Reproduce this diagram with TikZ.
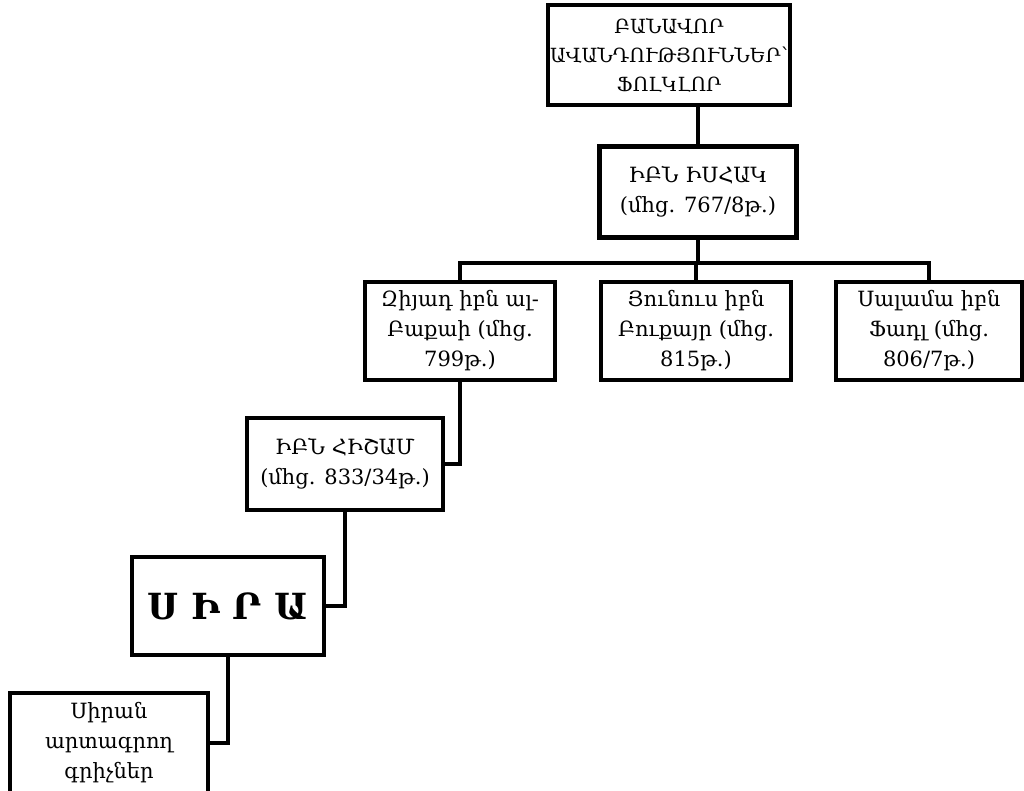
\documentclass[tikz,border=0pt]{standalone}
\usepackage{fontspec}
\setmainfont{DejaVu Serif}
\usepackage{tikz}

\begin{document}
\begin{tikzpicture}[x=1pt, y=-1pt, line join=miter,
	every node/.style={font=\fontsize{21}{30}\selectfont},
	box/.style={draw, line width=4.5pt, align=center, inner sep=0pt},
	link/.style={line width=4.5pt}]
	\useasboundingbox (0,0) rectangle (1024,791);
	\clip (0,0) rectangle (1024,791);
	\fill[white] (0,0) rectangle (1024,791);
	\node[box, minimum width=242, minimum height=100, font=\fontsize{19.5}{29}\selectfont] (folk) at (669,55) {ԲԱՆԱՎՈՐ\\ԱՎԱՆԴՈՒԹՅՈՒՆՆԵՐ՝\\ՖՈԼԿԼՈՐ};
	\node[box, minimum width=197, minimum height=91] (ishaq) at (698,192) {ԻԲՆ ԻՍՀԱԿ\\(մհց. 767/8թ.)};
	\coordinate (bar) at (0,263);
	\node[box, minimum width=190, minimum height=98] (ziyad) at (460,331) {Զիյադ իբն ալ-\\Բաքաի (մհց.\\799թ.)};
	\node[box, minimum width=190, minimum height=98] (yunus) at (696,331) {Յունուս իբն\\Բուքայր (մհց.\\815թ.)};
	\node[box, minimum width=186, minimum height=98] (salama) at (929,331) {Սալամա իբն\\Ֆադլ (մհց.\\806/7թ.)};
	\node[box, minimum width=196, minimum height=92] (hisham) at (345,464) {ԻԲՆ ՀԻՇԱՄ\\(մհց. 833/34թ.)};
	\node[box, minimum width=192, minimum height=98, font=\fontsize{36}{40}\selectfont\bfseries] (sira) at (228,606) {Ս Ի Ր Ա};
	\node[box, minimum width=198, minimum height=100] (scribes) at (109,743) {Սիրան\\արտագրող\\գրիչներ};
	\draw[link] (ishaq.north) -- (ishaq.north |- folk.south);
	\draw[link] (ishaq.south) -- (ishaq.south |- bar);
	\draw[link] (ziyad.north) -- (ziyad.north |- bar) -- (salama.north |- bar) -- (salama.north);
	\draw[link] (yunus.north) -- (yunus.north |- bar);
	\draw[link] (ziyad.south) |- (hisham.east);
	\draw[link] (hisham.south) |- (sira.east);
	\draw[link] (sira.south) |- (scribes.east);
\end{tikzpicture}
\end{document}
